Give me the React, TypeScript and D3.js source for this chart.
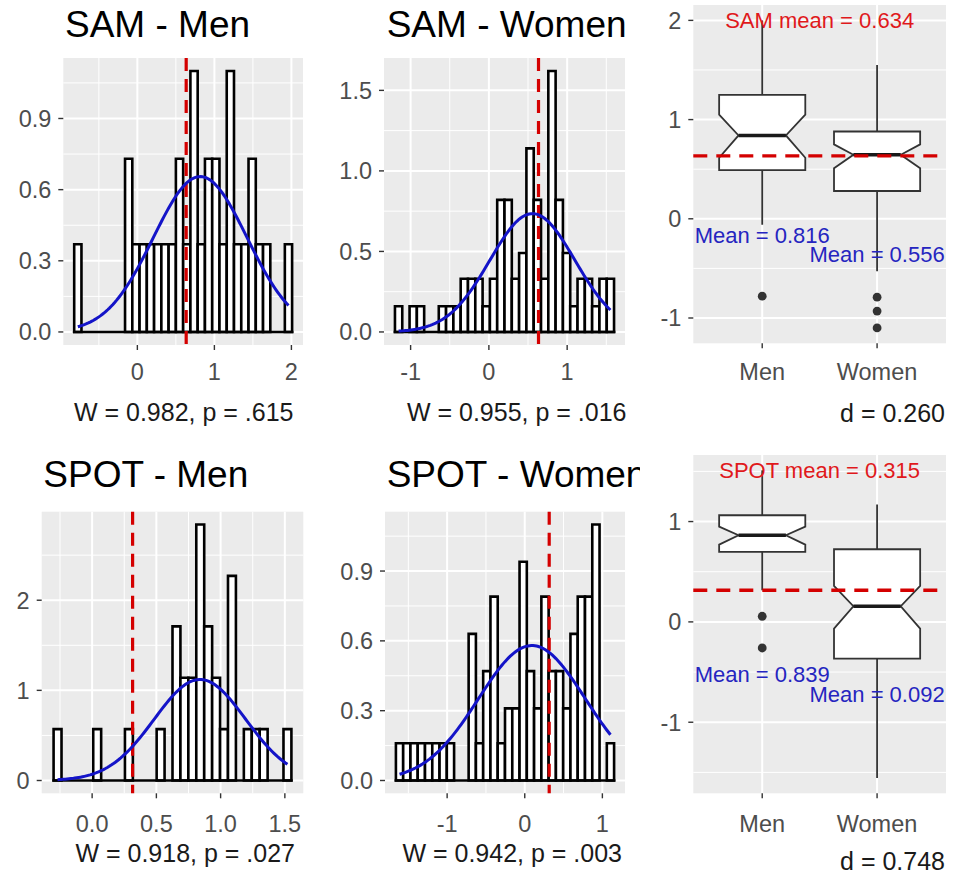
import React from "react";
import * as d3 from "d3";

// ---- histogram data (30 bins each, density values) ----
const samMenDensity = [0.37, 0, 0, 0, 0, 0, 0, 0.73, 0.37, 0.37, 0.37, 0.37, 0.37, 0.37, 0.73, 0.37, 1.1, 0.37, 0.73, 0.73, 0.37, 1.1, 0.37, 0.37, 0.73, 0.37, 0.37, 0, 0, 0.37];
const samMenBinStart = -0.82;
const samMenBinWidth = 0.0943;
const samMenFit = { mean: 0.816, sd: 0.609 };

const samWomenDensity = [0.16, 0, 0.16, 0.16, 0, 0, 0.16, 0.16, 0.16, 0.33, 0.33, 0.33, 0.16, 0.33, 0.82, 0.82, 0.33, 0.49, 1.14, 0.82, 0.33, 1.62, 0.82, 0.49, 0.16, 0.33, 0.33, 0.16, 0.33, 0.33];
const samWomenBinStart = -1.2;
const samWomenBinWidth = 0.0933;
const samWomenFit = { mean: 0.556, sd: 0.543 };

const spotMenDensity = [0.57, 0, 0, 0, 0, 0.57, 0, 0, 0, 0.57, 0, 0, 0, 0.57, 0, 1.71, 1.14, 1.14, 2.84, 1.71, 1.14, 0.57, 2.27, 0, 0.57, 0.57, 0.57, 0, 0, 0.57];
const spotMenBinStart = -0.3;
const spotMenBinWidth = 0.0617;
const spotMenFit = { mean: 0.839, sd: 0.356 };

const spotWomenDensity = [0.16, 0.16, 0.16, 0.16, 0.16, 0.16, 0.16, 0.16, 0, 0, 0.63, 0.16, 0.47, 0.79, 0.16, 0.31, 0.31, 0.94, 0.47, 0.31, 0.79, 0.47, 0.47, 0.31, 0.63, 0.79, 0.79, 1.1, 0, 0.16];
const spotWomenBinStart = -1.66;
const spotWomenBinWidth = 0.0937;
const spotWomenFit = { mean: 0.092, sd: 0.688 };

// ---- overall means (red dashed lines) ----
const samMean = 0.634;
const spotMean = 0.315;

// ---- box plot data ----
const groups = ["Men", "Women"];
const samBoxes = [
  { low: -0.06, q1: 0.49, median: 0.84, q3: 1.25, high: 2.0, notch: [0.615, 1.05], outliers: [-0.78] },
  { low: -0.53, q1: 0.28, median: 0.645, q3: 0.88, high: 1.55, notch: [0.51, 0.75], outliers: [-0.79, -0.93, -1.1] },
];
const spotBoxes = [
  { low: 0.315, q1: 0.698, median: 0.864, q3: 1.063, high: 1.51, notch: [0.77, 0.95], outliers: [0.056, -0.26] },
  { low: -1.555, q1: -0.366, median: 0.156, q3: 0.724, high: 1.17, notch: [-0.067, 0.359], outliers: [] as number[] },
];
const samGroupMeans = ["Mean = 0.816", "Mean = 0.556"];
const samGroupMeanY = [-0.165, -0.355];
const spotGroupMeans = ["Mean = 0.839", "Mean = 0.092"];
const spotGroupMeanY = [-0.52, -0.72];

// ---- tick labels / texts ----
const samMenYTicks = [0, 0.3, 0.6, 0.9];
const samMenXTicks = [0, 1, 2];
const samWomenYTicks = [0, 0.5, 1, 1.5];
const samWomenXTicks = [-1, 0, 1];
const spotMenYTicks = [0, 1, 2];
const spotMenXTicks = [0, 0.5, 1, 1.5];
const spotWomenYTicks = [0, 0.3, 0.6, 0.9];
const spotWomenXTicks = [-1, 0, 1];
const samBoxYTicks = [-1, 0, 1, 2];
const spotBoxYTicks = [-1, 0, 1];

const FONT = "'Liberation Sans', Arial, Helvetica, sans-serif";
const BG = "#EBEBEB";
const TICK_TEXT = "#4D4D4D";
const TICK = "#333333";

const expand = (lo: number, hi: number, m = 0.05): [number, number] => {
  const d = (hi - lo) * m;
  return [lo - d, hi + d];
};

const minors = (major: number[], dom: [number, number]) => {
  const step = major[1] - major[0];
  return [major[0] - step / 2, ...major.map((m) => m + step / 2)].filter(
    (v) => v >= Math.min(...dom) && v <= Math.max(...dom)
  );
};

const dnorm = (v: number, m: number, s: number) =>
  Math.exp(-0.5 * ((v - m) / s) ** 2) / (s * Math.sqrt(2 * Math.PI));

function Histogram(props: any) {
  const {
    x0, y0, x1, y1, title, titleX, titleY, density, binStart, binWidth, fit, refMean,
    yTicks, yDigits, xTicks, xDigits, caption, captionX, captionY, xLabelY, clipId,
  } = props;
  const n = density.length;
  const xDom = expand(binStart, binStart + n * binWidth);
  const yDom = expand(0, d3.max(density as number[]) as number);
  const x = d3.scaleLinear().domain(xDom).range([x0, x1]);
  const y = d3.scaleLinear().domain(yDom).range([y1, y0]);

  // fitted normal curve, drawn between the first and last bin centres
  const from = binStart + binWidth / 2;
  const to = binStart + (n - 0.5) * binWidth;
  const pts = d3.range(0, 121).map((i) => from + ((to - from) * i) / 120);
  const line = d3
    .line<number>()
    .x((v) => x(v))
    .y((v) => y(dnorm(v, fit.mean, fit.sd)));

  return (
    <g>
      <text x={titleX} y={titleY} fontSize={37} fill="#000" clipPath={`url(#${clipId})`}>
        {title}
      </text>
      <rect x={x0} y={y0} width={x1 - x0} height={y1 - y0} fill={BG} />
      {minors(xTicks, xDom).map((v) => (
        <line key={"mx" + v} x1={x(v)} x2={x(v)} y1={y0} y2={y1} stroke="#fff" strokeWidth={1} />
      ))}
      {minors(yTicks, yDom).map((v) => (
        <line key={"my" + v} x1={x0} x2={x1} y1={y(v)} y2={y(v)} stroke="#fff" strokeWidth={1} />
      ))}
      {xTicks.map((v: number) => (
        <line key={"gx" + v} x1={x(v)} x2={x(v)} y1={y0} y2={y1} stroke="#fff" strokeWidth={2} />
      ))}
      {yTicks.map((v: number) => (
        <line key={"gy" + v} x1={x0} x2={x1} y1={y(v)} y2={y(v)} stroke="#fff" strokeWidth={2} />
      ))}
      {density.map((d: number, i: number) => {
        const a = x(binStart + i * binWidth);
        const b = x(binStart + (i + 1) * binWidth);
        return d > 0 ? (
          <path
            key={"b" + i}
            d={`M${a},${y(0)}V${y(d)}H${b}V${y(0)}Z`}
            fill="#fff"
            stroke="#000"
            strokeWidth={2.6}
          />
        ) : null;
      })}
      <line
        x1={x(binStart) - 1.3} x2={x(binStart + n * binWidth) + 1.3} y1={y(0)} y2={y(0)}
        stroke="#000" strokeWidth={2.6}
      />
      <line
        x1={x(refMean)} x2={x(refMean)} y1={y0} y2={y1}
        stroke="#D40000" strokeWidth={3.2} strokeDasharray="13 8"
      />
      <path d={line(pts) || ""} fill="none" stroke="#1414C8" strokeWidth={3} />
      {yTicks.map((v: number) => (
        <g key={"ty" + v}>
          <line x1={x0 - 5} x2={x0} y1={y(v)} y2={y(v)} stroke={TICK} strokeWidth={1.4} />
          <text x={x0 - 12} y={y(v)} dy="0.36em" textAnchor="end" fontSize={23.5} fill={TICK_TEXT}>
            {v.toFixed(yDigits)}
          </text>
        </g>
      ))}
      {xTicks.map((v: number) => (
        <g key={"tx" + v}>
          <line x1={x(v)} x2={x(v)} y1={y1} y2={y1 + 5} stroke={TICK} strokeWidth={1.4} />
          <text x={x(v)} y={xLabelY} textAnchor="middle" fontSize={23.5} fill={TICK_TEXT}>
            {v.toFixed(xDigits)}
          </text>
        </g>
      ))}
      <text x={captionX} y={captionY} textAnchor="end" fontSize={25} fill="#1a1a1a">
        {caption}
      </text>
    </g>
  );
}

function BoxPanel(props: any) {
  const {
    x0, y0, x1, y1, boxes, refMean, refLabel, meanLabels, meanLabelY, yTicks, xLabelY,
    caption, captionX, captionY,
  } = props;
  const lo = d3.min(boxes as any[], (b: any) => Math.min(b.low, ...b.outliers)) as number;
  const hi = d3.max(boxes as any[], (b: any) => Math.max(b.high, ...b.outliers)) as number;
  const yDom = expand(lo, hi);
  const y = d3.scaleLinear().domain(yDom).range([y1, y0]);
  const x = d3.scalePoint<string>().domain(groups).range([x0, x1]).padding(0.6);
  const step = x.step();
  const half = (step * 0.75) / 2;
  const nw = half * 0.55;

  return (
    <g>
      <rect x={x0} y={y0} width={x1 - x0} height={y1 - y0} fill={BG} />
      {minors(yTicks, yDom).map((v) => (
        <line key={"my" + v} x1={x0} x2={x1} y1={y(v)} y2={y(v)} stroke="#fff" strokeWidth={1} />
      ))}
      {yTicks.map((v: number) => (
        <line key={"gy" + v} x1={x0} x2={x1} y1={y(v)} y2={y(v)} stroke="#fff" strokeWidth={2} />
      ))}
      {groups.map((g) => (
        <line key={"gx" + g} x1={x(g)} x2={x(g)} y1={y0} y2={y1} stroke="#fff" strokeWidth={2} />
      ))}
      {boxes.map((b: any, i: number) => {
        const c = x(groups[i]) as number;
        const l = c - half;
        const r = c + half;
        const p = d3.path();
        p.moveTo(l, y(b.q3));
        p.lineTo(r, y(b.q3));
        p.lineTo(r, y(b.notch[1]));
        p.lineTo(c + nw, y(b.median));
        p.lineTo(r, y(b.notch[0]));
        p.lineTo(r, y(b.q1));
        p.lineTo(l, y(b.q1));
        p.lineTo(l, y(b.notch[0]));
        p.lineTo(c - nw, y(b.median));
        p.lineTo(l, y(b.notch[1]));
        p.closePath();
        return (
          <g key={"box" + i}>
            <line x1={c} x2={c} y1={y(b.high)} y2={y(b.q3)} stroke={TICK} strokeWidth={1.8} />
            <line x1={c} x2={c} y1={y(b.q1)} y2={y(b.low)} stroke={TICK} strokeWidth={1.8} />
            <path d={p.toString()} fill="#fff" stroke={TICK} strokeWidth={1.8} />
            <line x1={c - nw} x2={c + nw} y1={y(b.median)} y2={y(b.median)} stroke="#1a1a1a" strokeWidth={3.6} />
            {b.outliers.map((o: number, k: number) => (
              <circle key={k} cx={c} cy={y(o)} r={4.4} fill="#333" />
            ))}
          </g>
        );
      })}
      <line x1={x0} x2={x1} y1={y(refMean)} y2={y(refMean)} stroke="#D40000" strokeWidth={3.4} strokeDasharray="14 9" />
      <text x={(x0 + x1) / 2} y={y(hi)} dy="0.36em" textAnchor="middle" fontSize={22} fill="#E0191C">
        {refLabel}
      </text>
      {meanLabels.map((t: string, i: number) => (
        <text key={t} x={x(groups[i])} y={y(meanLabelY[i])} dy="0.36em" textAnchor="middle" fontSize={22} fill="#2525C0">
          {t}
        </text>
      ))}
      {yTicks.map((v: number) => (
        <g key={"ty" + v}>
          <line x1={x0 - 5} x2={x0} y1={y(v)} y2={y(v)} stroke={TICK} strokeWidth={1.4} />
          <text x={x0 - 12} y={y(v)} dy="0.36em" textAnchor="end" fontSize={23.5} fill={TICK_TEXT}>
            {String(v)}
          </text>
        </g>
      ))}
      {groups.map((g) => (
        <g key={"tx" + g}>
          <line x1={x(g)} x2={x(g)} y1={y1} y2={y1 + 5} stroke={TICK} strokeWidth={1.4} />
          <text x={x(g)} y={xLabelY} textAnchor="middle" fontSize={23.5} fill={TICK_TEXT}>
            {g}
          </text>
        </g>
      ))}
      <text x={captionX} y={captionY} textAnchor="end" fontSize={25} fill="#1a1a1a">
        {caption}
      </text>
    </g>
  );
}

export default function App() {
  return (
    <svg
      width={958}
      height={879}
      style={{ position: "absolute", left: 0, top: 0, background: "#fff", fontFamily: FONT }}
    >
      <defs>
        <clipPath id="col1">
          <rect x={0} y={0} width={320} height={879} />
        </clipPath>
        <clipPath id="col2">
          <rect x={320} y={0} width={320} height={879} />
        </clipPath>
      </defs>
      <Histogram
        x0={63.3} y0={58} x1={303} y1={345}
        title="SAM - Men" titleX={65} titleY={37} clipId="col1"
        density={samMenDensity} binStart={samMenBinStart} binWidth={samMenBinWidth} fit={samMenFit}
        refMean={samMean} yTicks={samMenYTicks} yDigits={1} xTicks={samMenXTicks} xDigits={0}
        xLabelY={380} caption="W = 0.982, p = .615" captionX={293.5} captionY={421}
      />
      <Histogram
        x0={384} y0={58} x1={625} y1={345}
        title="SAM - Women" titleX={386.7} titleY={37} clipId="col2"
        density={samWomenDensity} binStart={samWomenBinStart} binWidth={samWomenBinWidth} fit={samWomenFit}
        refMean={samMean} yTicks={samWomenYTicks} yDigits={1} xTicks={samWomenXTicks} xDigits={0}
        xLabelY={380} caption="W = 0.955, p = .016" captionX={626.5} captionY={421}
      />
      <BoxPanel
        x0={693.3} y0={5} x1={946} y1={343.3}
        boxes={samBoxes} refMean={samMean} refLabel="SAM mean = 0.634"
        meanLabels={samGroupMeans} meanLabelY={samGroupMeanY} yTicks={samBoxYTicks}
        xLabelY={380} caption="d = 0.260" captionX={945} captionY={421.7}
      />
      <Histogram
        x0={41.7} y0={511.7} x1={303.3} y1={793.3}
        title="SPOT - Men" titleX={43.3} titleY={486.7} clipId="col1"
        density={spotMenDensity} binStart={spotMenBinStart} binWidth={spotMenBinWidth} fit={spotMenFit}
        refMean={spotMean} yTicks={spotMenYTicks} yDigits={0} xTicks={spotMenXTicks} xDigits={1}
        xLabelY={831.7} caption="W = 0.918, p = .027" captionX={295} captionY={861.7}
      />
      <Histogram
        x0={385} y0={511.7} x1={625} y1={793.3}
        title="SPOT - Women" titleX={386.7} titleY={486.7} clipId="col2"
        density={spotWomenDensity} binStart={spotWomenBinStart} binWidth={spotWomenBinWidth} fit={spotWomenFit}
        refMean={spotMean} yTicks={spotWomenYTicks} yDigits={1} xTicks={spotWomenXTicks} xDigits={0}
        xLabelY={831.7} caption="W = 0.942, p = .003" captionX={622} captionY={861.7}
      />
      <BoxPanel
        x0={693.3} y0={455} x1={946} y1={793.3}
        boxes={spotBoxes} refMean={spotMean} refLabel="SPOT mean = 0.315"
        meanLabels={spotGroupMeans} meanLabelY={spotGroupMeanY} yTicks={spotBoxYTicks}
        xLabelY={831.7} caption="d = 0.748" captionX={945} captionY={870}
      />
    </svg>
  );
}
